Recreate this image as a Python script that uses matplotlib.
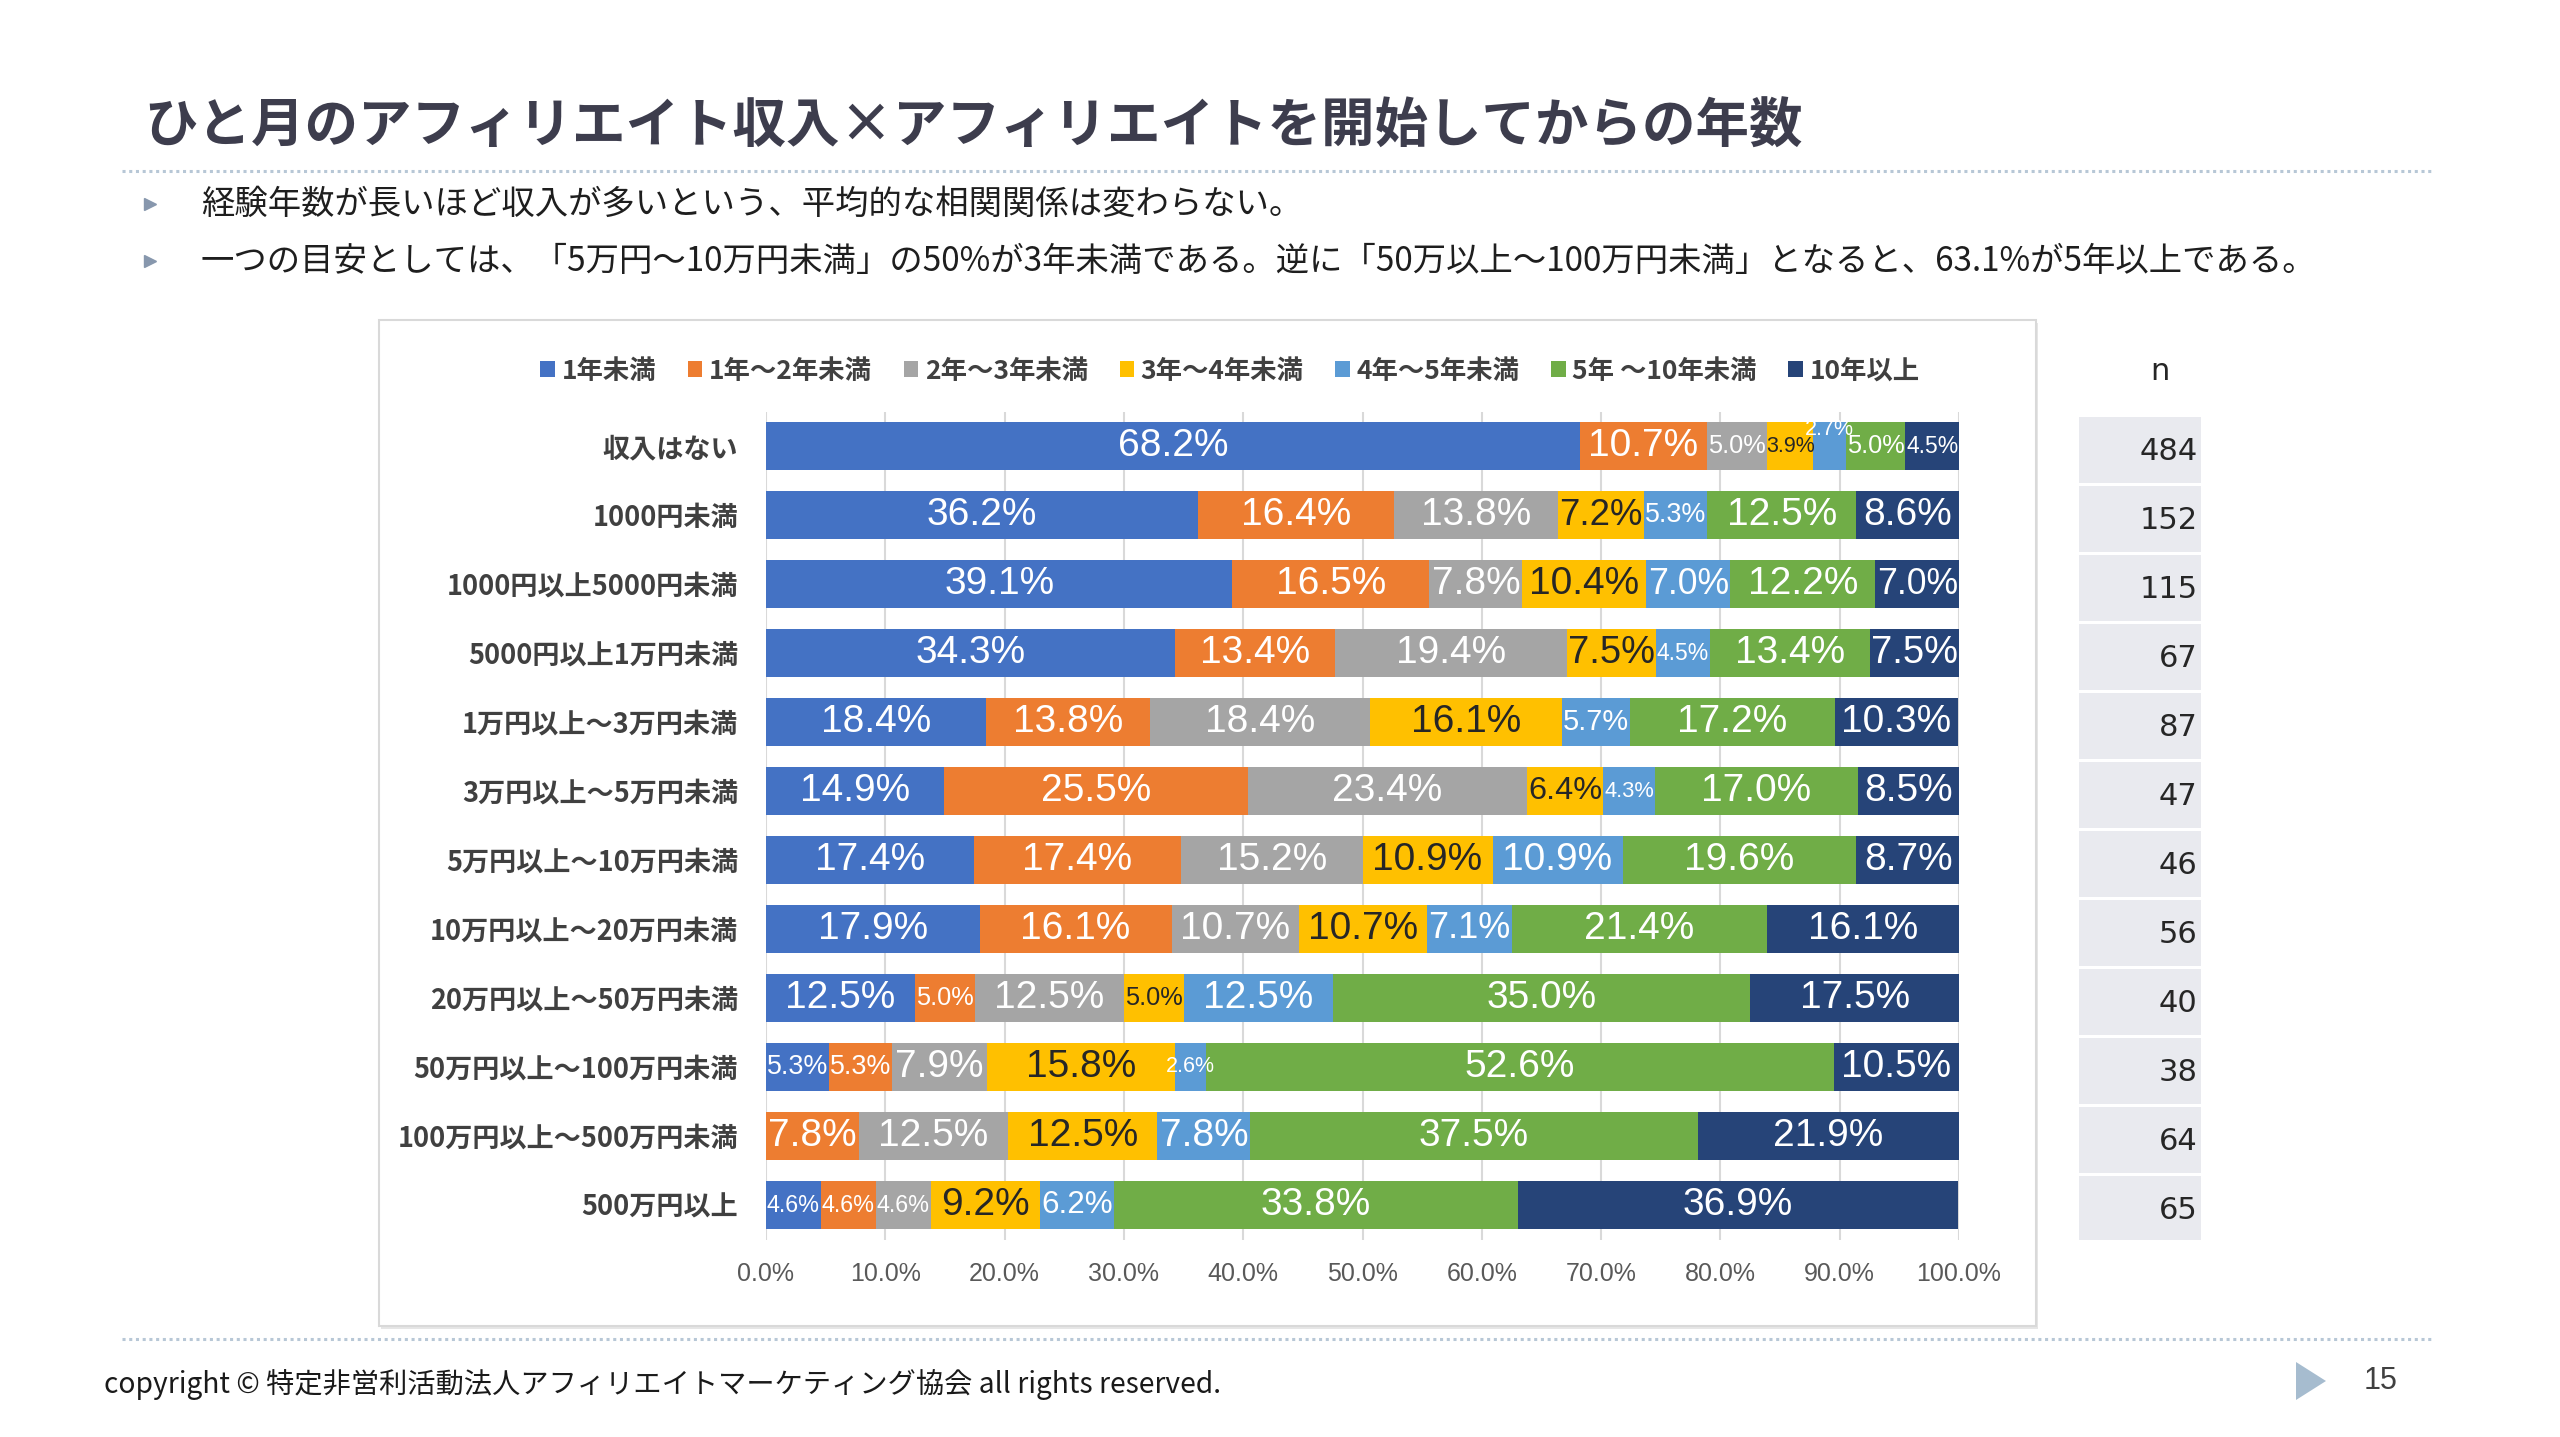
import matplotlib
matplotlib.use('Agg')
import matplotlib.pyplot as plt
from matplotlib import font_manager
from matplotlib.lines import Line2D
from matplotlib.patches import Rectangle, Polygon
import numpy as np

# ---------------- data ----------------
categories = ['収入はない', '1000円未満', '1000円以上5000円未満', '5000円以上1万円未満',
              '1万円以上～3万円未満', '3万円以上～5万円未満', '5万円以上～10万円未満',
              '10万円以上～20万円未満', '20万円以上～50万円未満', '50万円以上～100万円未満',
              '100万円以上～500万円未満', '500万円以上']
series_names = ['1年未満', '1年～2年未満', '2年～3年未満', '3年～4年未満',
                '4年～5年未満', '5年 ～10年未満', '10年以上']
y_lt1 = [68.2, 36.2, 39.1, 34.3, 18.4, 14.9, 17.4, 17.9, 12.5, 5.3, 0.0, 4.6]
y_1to2 = [10.7, 16.4, 16.5, 13.4, 13.8, 25.5, 17.4, 16.1, 5.0, 5.3, 7.8, 4.6]
y_2to3 = [5.0, 13.8, 7.8, 19.4, 18.4, 23.4, 15.2, 10.7, 12.5, 7.9, 12.5, 4.6]
y_3to4 = [3.9, 7.2, 10.4, 7.5, 16.1, 6.4, 10.9, 10.7, 5.0, 15.8, 12.5, 9.2]
y_4to5 = [2.7, 5.3, 7.0, 4.5, 5.7, 4.3, 10.9, 7.1, 12.5, 2.6, 7.8, 6.2]
y_5to10 = [5.0, 12.5, 12.2, 13.4, 17.2, 17.0, 19.6, 21.4, 35.0, 52.6, 37.5, 33.8]
y_10plus = [4.5, 8.6, 7.0, 7.5, 10.3, 8.5, 8.7, 16.1, 17.5, 10.5, 21.9, 36.9]
n_values = [484, 152, 115, 67, 87, 47, 46, 56, 40, 38, 64, 65]
xtick_values = [0, 10, 20, 30, 40, 50, 60, 70, 80, 90, 100]

series = [y_lt1, y_1to2, y_2to3, y_3to4, y_4to5, y_5to10, y_10plus]
colors = ['#4472C4', '#ED7D31', '#A5A5A5', '#FFC000', '#5B9BD5', '#70AD47', '#264478']
label_colors = ['white', 'white', 'white', '#262626', 'white', 'white', 'white']

# ---------------- fonts ----------------
avail = {f.name for f in font_manager.fontManager.ttflist}
num_font = next((f for f in ['Liberation Sans Narrow', 'DejaVu Sans Condensed', 'Liberation Sans']
                 if f in avail), 'DejaVu Sans')
JP = ['Noto Sans CJK JP', 'DejaVu Sans']
plt.rcParams['font.family'] = JP

W, H = 2560, 1437
fig = plt.figure(figsize=(W / 100, H / 100), dpi=100)
fig.patch.set_facecolor('white')


def fx(x):
    return x / W


def fy(y):
    return 1 - y / H


# ---------------- decorations ----------------
fig.patches.append(Rectangle((fx(381), fy(1329)), fx(2038) - fx(381), fy(323) - fy(1329),
                             transform=fig.transFigure, facecolor='#e6e6e6', edgecolor='none', zorder=-3))
fig.patches.append(Rectangle((fx(379), fy(1326)), fx(2036) - fx(379), fy(320) - fy(1326),
                             transform=fig.transFigure, facecolor='white', edgecolor='#d9d9d9',
                             linewidth=1.5, zorder=-2))

fig.text(fx(144), fy(127), 'ひと月のアフィリエイト収入×アフィリエイトを開始してからの年数',
         fontsize=38.5, fontweight='bold', color='#3d3d4d', va='center', ha='left')

for yy in (171, 1339):
    fig.add_artist(Line2D([fx(122), fx(2433)], [fy(yy), fy(yy)], transform=fig.transFigure,
                          color='#b7c7d6', linewidth=2.2, linestyle=(0, (1, 1.2))))

bullets = ['経験年数が長いほど収入が多いという、平均的な相関関係は変わらない。',
           '一つの目安としては、「5万円～10万円未満」の50%が3年未満である。逆に「50万以上～100万円未満」となると、63.1%が5年以上である。']
for yy, txt in zip((204, 261), bullets):
    fig.add_artist(Line2D([fx(150)], [fy(yy)], transform=fig.transFigure, marker='>',
                          markersize=9, color='#8797ad', linestyle='none'))
    fig.text(fx(201), fy(yy), txt, fontsize=24, color='#1e1e1e', va='center', ha='left')

fig.text(fx(104), fy(1385), 'copyright © 特定非営利活動法人アフィリエイトマーケティング協会 all rights reserved.',
         fontsize=20.3, color='#1a1a1a', va='center', ha='left')
fig.patches.append(Polygon([[fx(2296), fy(1362)], [fx(2296), fy(1400)], [fx(2326), fy(1381)]],
                           closed=True, transform=fig.transFigure, facecolor='#a6bccf', edgecolor='none'))
fig.text(fx(2381), fy(1381), '15', fontsize=22, color='#404040', va='center', ha='center',
         family=num_font)

# ---------------- main chart ----------------
ax_bottom, ax_top = fy(1239.5), fy(411.5)
ax = fig.add_axes([fx(766), ax_bottom, fx(1959) - fx(766), ax_top - ax_bottom])
ax.patch.set_alpha(0)
ypos = np.arange(len(categories))
bar_h = 0.71
left = np.zeros(len(categories))
handles = []
for name, vals, c in zip(series_names, series, colors):
    vals = np.array(vals)
    b = ax.barh(ypos, vals, left=left, height=bar_h, color=c, label=name, zorder=3)
    handles.append(b)
    left = left + vals

ax.set_xlim(0, 100)
ax.set_ylim(len(categories) - 0.5, -0.5)
ax.set_xticks(xtick_values)
ax.set_xticklabels([f'{v:.1f}%' for v in xtick_values], fontsize=18, color='#595959', family=num_font)
ax.set_yticks(ypos)
ax.set_yticklabels(categories, fontsize=19.5, fontweight='bold', color='#404040')
ax.tick_params(axis='both', length=0)
ax.tick_params(axis='x', pad=16)
ax.tick_params(axis='y', pad=20)
ax.grid(axis='x', color='#d9d9d9', linewidth=1.5, zorder=0)
ax.set_axisbelow(True)
for s in ax.spines.values():
    s.set_visible(False)

# segment labels (a tiny label in the first row sits a little above its bar, as in the source)
raised = {(4, 0): -0.24}
fig.canvas.draw()
renderer = fig.canvas.get_renderer()
px_per_unit = (1959 - 766) / 100.0
left = np.zeros(len(categories))
for k, (vals, lc) in enumerate(zip(series, label_colors)):
    for i, v in enumerate(vals):
        if v > 0:
            t = ax.text(left[i] + v / 2, i + raised.get((k, i), 0.0), f'{v:.1f}%',
                        ha='center', va='center', fontsize=28, color=lc, family=num_font, zorder=5)
            w = t.get_window_extent(renderer).width
            seg = v * px_per_unit * 0.97
            if w > seg:
                t.set_fontsize(max(15.5, 28 * seg / w))
        left[i] += v

# legend
fig.legend(handles=handles, labels=series_names, loc='center', bbox_to_anchor=(fx(1230), fy(371)),
           ncol=7, frameon=False, prop={'size': 19, 'weight': 'bold'}, handlelength=0.55,
           handleheight=0.55, handletextpad=0.25, columnspacing=1.2, labelcolor='#404040')

# n column
ax2 = fig.add_axes([fx(2079), ax_bottom, fx(2201) - fx(2079), ax_top - ax_bottom])
ax2.barh(ypos + 0.06, [1] * len(n_values), left=0, height=0.955, color='#e9eaef')
ax2.set_xlim(0, 1)
ax2.set_ylim(len(categories) - 0.5, -0.5)
ax2.axis('off')
for i, n in enumerate(n_values):
    ax2.text(0.97, i + 0.08, str(n), ha='right', va='center', fontsize=22, color='#262626',
             family='DejaVu Sans')
fig.text(fx(2160), fy(372), 'n', fontsize=22, color='#262626', ha='center', va='center',
         family='DejaVu Sans')

fig.savefig('out.png', dpi=100, facecolor='white')
